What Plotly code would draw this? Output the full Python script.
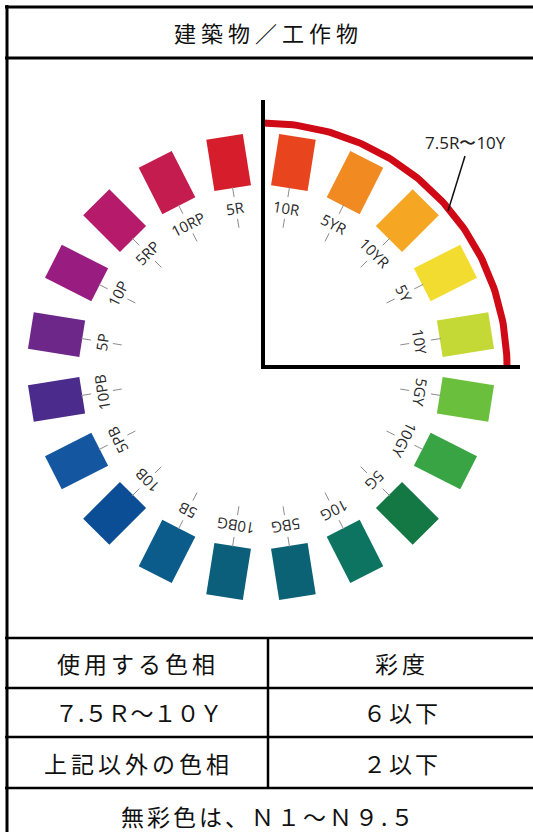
import math
import plotly.graph_objects as go

# ---------------- data ----------------
hues = ["5R", "10R", "5YR", "10YR", "5Y", "10Y", "5GY", "10GY", "5G", "10G",
        "5BG", "10BG", "5B", "10B", "5PB", "10PB", "5P", "10P", "5RP", "10RP"]
hue_colors = ["#d61d2b", "#e8451f", "#f08a21", "#f5a623", "#f2dc30", "#c5d936",
              "#6abf3c", "#38a443", "#147845", "#0d7462", "#0c6275", "#0b5f7b",
              "#0b5c8b", "#0c4e96", "#1456a0", "#4b2b8b", "#6d2788", "#991d80",
              "#b61b6b", "#c41c4e"]
highlight_label = "7.5R〜10Y"
title_text = "建築物／工作物"
header_cells = ["使用する色相", "彩度"]
hue_range_col = ["７.５Ｒ〜１０Ｙ", "上記以外の色相"]
chroma_col = ["６以下", "２以下"]
footer_text = "無彩色は、Ｎ１〜Ｎ９.５"

# ---------------- geometry (pixel space) ----------------
W, H = 533, 832
CX, CY = 261, 367          # wheel centre
R_SW, SW_T, SW_R = 207, 37, 52
R_LAB = 161
STEP = 360 / len(hues)
ARC_C = (263, 367)
ARC_R = 244

fig = go.Figure()

def pol(r, ang):
    a = math.radians(ang)
    return CX + r * math.sin(a), CY - r * math.cos(a)

# swatches
for i, (h, c) in enumerate(zip(hues, hue_colors)):
    ang = -STEP / 2 + STEP * i
    a = math.radians(ang)
    ux, uy = math.sin(a), -math.cos(a)
    tx, ty = math.cos(a), math.sin(a)
    cx, cy = pol(R_SW, ang)
    pts = []
    for sr, st in [(1, -1), (1, 1), (-1, 1), (-1, -1), (1, -1)]:
        pts.append((cx + sr * ux * SW_R / 2 + st * tx * SW_T / 2,
                    cy + sr * uy * SW_R / 2 + st * ty * SW_T / 2))
    fig.add_trace(go.Scatter(x=[p[0] for p in pts], y=[p[1] for p in pts],
                             mode="lines", fill="toself", fillcolor=c,
                             line=dict(width=0, color=c), name=h,
                             hoverinfo="name", showlegend=False))

# label ticks
tkx, tky = [], []
for i in range(len(hues)):
    ang = -STEP / 2 + STEP * i
    for r0, r1 in [(182, 172), (150, 141)]:
        x0, y0 = pol(r0, ang)
        x1, y1 = pol(r1, ang)
        tkx += [x0, x1, None]
        tky += [y0, y1, None]
fig.add_trace(go.Scatter(x=tkx, y=tky, mode="lines",
                         line=dict(color="#8c8c8c", width=1),
                         hoverinfo="skip", showlegend=False))

# red arc for 7.5R–10Y
arc_x, arc_y = [], []
for k in range(0, 91):
    a = math.radians(k)
    arc_x.append(ARC_C[0] + ARC_R * math.sin(a))
    arc_y.append(ARC_C[1] - ARC_R * math.cos(a))
fig.add_trace(go.Scatter(x=arc_x, y=arc_y, mode="lines",
                         line=dict(color="#cf0a16", width=7),
                         hoverinfo="skip", showlegend=False))

annotations = []
for i, h in enumerate(hues):
    ang = -STEP / 2 + STEP * i
    lx, ly = pol(R_LAB, ang)
    annotations.append(dict(x=lx, y=ly, text=h, showarrow=False,
                            textangle=ang, xanchor="center", yanchor="middle",
                            font=dict(family="Open Sans", size=15, color="#2a2a2a")))

annotations.append(dict(x=465, y=142, text=highlight_label, showarrow=False,
                        font=dict(family="Open Sans", size=17, color="#222222")))

CJK = "Noto Sans CJK JP"

def ls(t, px):
    return f'<span style="letter-spacing:{px}px">{t}</span>'

annotations.append(dict(x=268, y=32, text=ls(title_text, 5), showarrow=False,
                        font=dict(family=CJK, size=22, color="#111111")))
row_y = [663, 712, 763]
col_x = [138, 402]
annotations.append(dict(x=col_x[0], y=row_y[0], text=ls(header_cells[0], 4), showarrow=False,
                        font=dict(family=CJK, size=23, color="#111111")))
annotations.append(dict(x=col_x[1], y=row_y[0], text=ls(header_cells[1], 4), showarrow=False,
                        font=dict(family=CJK, size=23, color="#111111")))
for j in range(2):
    sp = 0 if j == 0 else 4
    annotations.append(dict(x=col_x[0], y=row_y[j + 1], text=ls(hue_range_col[j], sp),
                            showarrow=False, font=dict(family=CJK, size=23, color="#111111")))
    annotations.append(dict(x=col_x[1], y=row_y[j + 1], text=ls(chroma_col[j], 3),
                            showarrow=False, font=dict(family=CJK, size=23, color="#111111")))
annotations.append(dict(x=268, y=816, text=ls(footer_text, 3), showarrow=False,
                        font=dict(family=CJK, size=23, color="#111111")))

shapes = []
def line(x0, y0, x1, y1, w, c="black"):
    shapes.append(dict(type="line", x0=x0, y0=y0, x1=x1, y1=y1,
                       line=dict(color=c, width=w), layer="above"))

# axes corner lines
line(263, 100, 263, 369, 4)
line(261, 367, 520, 367, 4)
# callout leader
line(465, 156, 448, 211, 1.5, "#111111")
# table frame
line(5, 7, 533, 7, 3)
line(7, 5, 7, 832, 3)
line(5, 58, 533, 58, 3)
for yy in [638, 688, 737, 788]:
    line(5, yy, 533, yy, 2.5)
line(268, 638, 268, 788, 2.5)

fig.update_layout(
    width=W, height=H, margin=dict(l=0, r=0, t=0, b=0),
    paper_bgcolor="white", plot_bgcolor="white",
    xaxis=dict(range=[0, W], visible=False, fixedrange=True),
    yaxis=dict(range=[H, 0], visible=False, fixedrange=True),
    annotations=annotations, shapes=shapes, showlegend=False,
)
fig.write_html("out.html", config={"displayModeBar": False},
               post_script="document.body.style.margin='0';document.body.style.overflow='hidden';")
